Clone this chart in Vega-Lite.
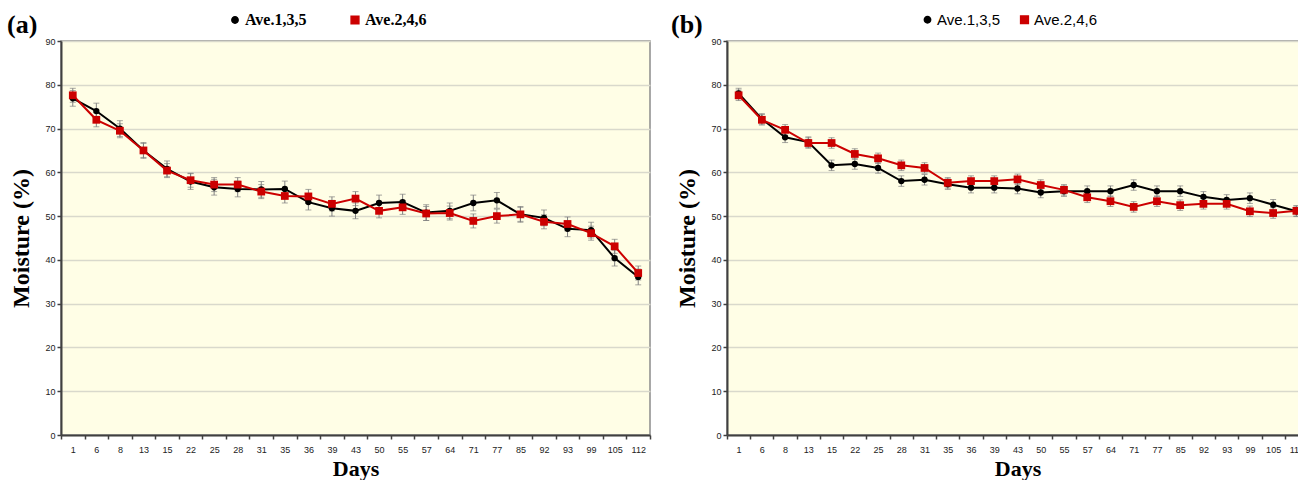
{
  "$schema": "https://vega.github.io/schema/vega-lite/v6.json",
  "padding": {"left": 6, "top": 11, "right": 0, "bottom": 0},
  "background": "white",
  "datasets": {
    "a": [
      {"day": 1, "series": "Ave.1,3,5", "moisture": 76.9, "err": 1.8},
      {"day": 6, "series": "Ave.1,3,5", "moisture": 74.0, "err": 1.8},
      {"day": 8, "series": "Ave.1,3,5", "moisture": 70.0, "err": 1.8},
      {"day": 13, "series": "Ave.1,3,5", "moisture": 65.0, "err": 1.8},
      {"day": 15, "series": "Ave.1,3,5", "moisture": 60.8, "err": 1.8},
      {"day": 22, "series": "Ave.1,3,5", "moisture": 57.9, "err": 1.8},
      {"day": 25, "series": "Ave.1,3,5", "moisture": 56.6, "err": 1.8},
      {"day": 28, "series": "Ave.1,3,5", "moisture": 56.2, "err": 1.8},
      {"day": 31, "series": "Ave.1,3,5", "moisture": 56.1, "err": 1.8},
      {"day": 35, "series": "Ave.1,3,5", "moisture": 56.2, "err": 1.8},
      {"day": 36, "series": "Ave.1,3,5", "moisture": 53.2, "err": 1.8},
      {"day": 39, "series": "Ave.1,3,5", "moisture": 51.8, "err": 1.8},
      {"day": 43, "series": "Ave.1,3,5", "moisture": 51.2, "err": 1.8},
      {"day": 50, "series": "Ave.1,3,5", "moisture": 53.0, "err": 1.8},
      {"day": 55, "series": "Ave.1,3,5", "moisture": 53.2, "err": 1.8},
      {"day": 57, "series": "Ave.1,3,5", "moisture": 50.8, "err": 1.8},
      {"day": 64, "series": "Ave.1,3,5", "moisture": 51.2, "err": 1.8},
      {"day": 71, "series": "Ave.1,3,5", "moisture": 53.0, "err": 1.8},
      {"day": 77, "series": "Ave.1,3,5", "moisture": 53.6, "err": 1.8},
      {"day": 85, "series": "Ave.1,3,5", "moisture": 50.4, "err": 1.8},
      {"day": 92, "series": "Ave.1,3,5", "moisture": 49.6, "err": 1.8},
      {"day": 93, "series": "Ave.1,3,5", "moisture": 47.1, "err": 1.8},
      {"day": 99, "series": "Ave.1,3,5", "moisture": 46.8, "err": 1.8},
      {"day": 105, "series": "Ave.1,3,5", "moisture": 40.4, "err": 1.8},
      {"day": 112, "series": "Ave.1,3,5", "moisture": 36.1, "err": 1.8},
      {"day": 1, "series": "Ave.2,4,6", "moisture": 77.6, "err": 1.6},
      {"day": 6, "series": "Ave.2,4,6", "moisture": 72.0, "err": 1.6},
      {"day": 8, "series": "Ave.2,4,6", "moisture": 69.5, "err": 1.6},
      {"day": 13, "series": "Ave.2,4,6", "moisture": 65.0, "err": 1.6},
      {"day": 15, "series": "Ave.2,4,6", "moisture": 60.4, "err": 1.6},
      {"day": 22, "series": "Ave.2,4,6", "moisture": 58.2, "err": 1.6},
      {"day": 25, "series": "Ave.2,4,6", "moisture": 57.2, "err": 1.6},
      {"day": 28, "series": "Ave.2,4,6", "moisture": 57.2, "err": 1.6},
      {"day": 31, "series": "Ave.2,4,6", "moisture": 55.6, "err": 1.6},
      {"day": 35, "series": "Ave.2,4,6", "moisture": 54.6, "err": 1.6},
      {"day": 36, "series": "Ave.2,4,6", "moisture": 54.5, "err": 1.6},
      {"day": 39, "series": "Ave.2,4,6", "moisture": 52.8, "err": 1.6},
      {"day": 43, "series": "Ave.2,4,6", "moisture": 54.0, "err": 1.6},
      {"day": 50, "series": "Ave.2,4,6", "moisture": 51.2, "err": 1.6},
      {"day": 55, "series": "Ave.2,4,6", "moisture": 52.0, "err": 1.6},
      {"day": 57, "series": "Ave.2,4,6", "moisture": 50.6, "err": 1.6},
      {"day": 64, "series": "Ave.2,4,6", "moisture": 50.7, "err": 1.6},
      {"day": 71, "series": "Ave.2,4,6", "moisture": 48.9, "err": 1.6},
      {"day": 77, "series": "Ave.2,4,6", "moisture": 50.0, "err": 1.6},
      {"day": 85, "series": "Ave.2,4,6", "moisture": 50.4, "err": 1.6},
      {"day": 92, "series": "Ave.2,4,6", "moisture": 48.7, "err": 1.6},
      {"day": 93, "series": "Ave.2,4,6", "moisture": 48.2, "err": 1.6},
      {"day": 99, "series": "Ave.2,4,6", "moisture": 46.1, "err": 1.6},
      {"day": 105, "series": "Ave.2,4,6", "moisture": 43.1, "err": 1.6},
      {"day": 112, "series": "Ave.2,4,6", "moisture": 37.0, "err": 1.6}
    ],
    "b": [
      {"day": 1, "series": "Ave.1,3,5", "moisture": 78.0, "err": 1.2},
      {"day": 6, "series": "Ave.1,3,5", "moisture": 72.2, "err": 1.2},
      {"day": 8, "series": "Ave.1,3,5", "moisture": 68.0, "err": 1.2},
      {"day": 13, "series": "Ave.1,3,5", "moisture": 66.9, "err": 1.2},
      {"day": 15, "series": "Ave.1,3,5", "moisture": 61.6, "err": 1.2},
      {"day": 22, "series": "Ave.1,3,5", "moisture": 61.9, "err": 1.2},
      {"day": 25, "series": "Ave.1,3,5", "moisture": 61.0, "err": 1.2},
      {"day": 28, "series": "Ave.1,3,5", "moisture": 58.0, "err": 1.2},
      {"day": 31, "series": "Ave.1,3,5", "moisture": 58.3, "err": 1.2},
      {"day": 35, "series": "Ave.1,3,5", "moisture": 57.3, "err": 1.2},
      {"day": 36, "series": "Ave.1,3,5", "moisture": 56.5, "err": 1.2},
      {"day": 39, "series": "Ave.1,3,5", "moisture": 56.5, "err": 1.2},
      {"day": 43, "series": "Ave.1,3,5", "moisture": 56.3, "err": 1.2},
      {"day": 50, "series": "Ave.1,3,5", "moisture": 55.4, "err": 1.2},
      {"day": 55, "series": "Ave.1,3,5", "moisture": 55.7, "err": 1.2},
      {"day": 57, "series": "Ave.1,3,5", "moisture": 55.7, "err": 1.2},
      {"day": 64, "series": "Ave.1,3,5", "moisture": 55.7, "err": 1.2},
      {"day": 71, "series": "Ave.1,3,5", "moisture": 57.1, "err": 1.2},
      {"day": 77, "series": "Ave.1,3,5", "moisture": 55.7, "err": 1.2},
      {"day": 85, "series": "Ave.1,3,5", "moisture": 55.7, "err": 1.2},
      {"day": 92, "series": "Ave.1,3,5", "moisture": 54.4, "err": 1.2},
      {"day": 93, "series": "Ave.1,3,5", "moisture": 53.7, "err": 1.2},
      {"day": 99, "series": "Ave.1,3,5", "moisture": 54.1, "err": 1.2},
      {"day": 105, "series": "Ave.1,3,5", "moisture": 52.6, "err": 1.2},
      {"day": 112, "series": "Ave.1,3,5", "moisture": 51.1, "err": 1.2},
      {"day": 1, "series": "Ave.2,4,6", "moisture": 77.6, "err": 1.2},
      {"day": 6, "series": "Ave.2,4,6", "moisture": 72.0, "err": 1.2},
      {"day": 8, "series": "Ave.2,4,6", "moisture": 69.7, "err": 1.2},
      {"day": 13, "series": "Ave.2,4,6", "moisture": 66.7, "err": 1.2},
      {"day": 15, "series": "Ave.2,4,6", "moisture": 66.7, "err": 1.2},
      {"day": 22, "series": "Ave.2,4,6", "moisture": 64.2, "err": 1.2},
      {"day": 25, "series": "Ave.2,4,6", "moisture": 63.2, "err": 1.2},
      {"day": 28, "series": "Ave.2,4,6", "moisture": 61.6, "err": 1.2},
      {"day": 31, "series": "Ave.2,4,6", "moisture": 61.0, "err": 1.2},
      {"day": 35, "series": "Ave.2,4,6", "moisture": 57.6, "err": 1.2},
      {"day": 36, "series": "Ave.2,4,6", "moisture": 58.0, "err": 1.2},
      {"day": 39, "series": "Ave.2,4,6", "moisture": 58.0, "err": 1.2},
      {"day": 43, "series": "Ave.2,4,6", "moisture": 58.4, "err": 1.2},
      {"day": 50, "series": "Ave.2,4,6", "moisture": 57.1, "err": 1.2},
      {"day": 55, "series": "Ave.2,4,6", "moisture": 56.0, "err": 1.2},
      {"day": 57, "series": "Ave.2,4,6", "moisture": 54.3, "err": 1.2},
      {"day": 64, "series": "Ave.2,4,6", "moisture": 53.4, "err": 1.2},
      {"day": 71, "series": "Ave.2,4,6", "moisture": 52.1, "err": 1.2},
      {"day": 77, "series": "Ave.2,4,6", "moisture": 53.4, "err": 1.2},
      {"day": 85, "series": "Ave.2,4,6", "moisture": 52.5, "err": 1.2},
      {"day": 92, "series": "Ave.2,4,6", "moisture": 52.8, "err": 1.2},
      {"day": 93, "series": "Ave.2,4,6", "moisture": 52.8, "err": 1.2},
      {"day": 99, "series": "Ave.2,4,6", "moisture": 51.1, "err": 1.2},
      {"day": 105, "series": "Ave.2,4,6", "moisture": 50.7, "err": 1.2},
      {"day": 112, "series": "Ave.2,4,6", "moisture": 51.2, "err": 1.2}
    ]
  },
  "config": {
    "view": {"fill": "#FFFEE6", "stroke": "#8C8C8C", "strokeWidth": 1.5},
    "axis": {
      "labelFont": "Liberation Sans", "labelFontSize": 9, "labelColor": "#222222",
      "titleFont": "Liberation Serif", "titleFontWeight": "bold", "titleColor": "#000000",
      "domainColor": "#404040", "domainWidth": 2,
      "tickColor": "#404040", "tickWidth": 1.5, "tickSize": 4,
      "gridColor": "#D9D9CC", "gridWidth": 1.5
    },
    "concat": {"spacing": 18}
  },
  "resolve": {
    "scale": {"color": "independent", "shape": "independent", "size": "independent", "x": "independent", "y": "independent"},
    "legend": {"color": "independent", "shape": "independent", "size": "independent"}
  },
  "hconcat": [
    {
      "width": 589, "height": 394,
      "title": {"text": "(a)", "font": "Liberation Serif", "fontSize": 26, "fontWeight": "bold", "color": "#000000", "anchor": "start", "frame": "group", "dx": -54, "offset": -26},
      "data": {"name": "a"},
      "encoding": {
        "x": {"field": "day", "type": "ordinal", "scale": {"paddingInner": 0, "paddingOuter": 0},
          "axis": {"title": "Days", "labelAngle": 0, "tickBand": "extent", "grid": false, "titleFontSize": 22, "labelPadding": 6, "titlePadding": 4}},
        "y": {"field": "moisture", "type": "quantitative", "scale": {"domain": [0, 90], "nice": false},
          "axis": {"title": "Moisture (%)", "values": [0, 10, 20, 30, 40, 50, 60, 70, 80, 90], "titleFontSize": 24, "labelPadding": 2, "titlePadding": 11}}
      },
      "layer": [
        {
          "mark": {"type": "errorbar", "color": "#808080", "thickness": 1, "ticks": {"size": 6, "color": "#808080", "thickness": 1}},
          "encoding": {
            "yError": {"field": "err"},
            "detail": {"field": "series"}
          }
        },
        {
          "mark": {"type": "line", "strokeWidth": 2},
          "encoding": {
            "color": {"field": "series", "type": "nominal", "scale": {"domain": ["Ave.1,3,5", "Ave.2,4,6"], "range": ["#000000", "#CC0000"]}}
          }
        },
        {
          "mark": {"type": "point", "filled": true, "opacity": 1},
          "encoding": {
            "color": {"field": "series", "type": "nominal", "scale": {"domain": ["Ave.1,3,5", "Ave.2,4,6"], "range": ["#000000", "#CC0000"]},
              "legend": {"title": null, "orient": "none", "legendX": 166, "legendY": -29, "direction": "horizontal",
                "labelFont": "Liberation Serif", "labelFontWeight": "bold", "labelFontSize": 16, "labelColor": "#000000",
                "symbolSize": 400, "columnPadding": 40, "labelOffset": 2,
                "encode": {"symbols": {
                  "shape": {"condition": {"test": "datum.value == 'Ave.1,3,5'", "value": "M-1,0H1M-0.3,0a0.3,0.3 0 1,0 0.6,0a0.3,0.3 0 1,0 -0.6,0"}, "value": "M-1,0H1M-0.3,-0.3h0.6v0.6h-0.6z"},
                  "fill": {"condition": {"test": "datum.value == 'Ave.1,3,5'", "value": "#000000"}, "value": "#CC0000"},
                  "stroke": {"condition": {"test": "datum.value == 'Ave.1,3,5'", "value": "#000000"}, "value": "#CC0000"},
                  "strokeWidth": {"value": 2}, "opacity": {"value": 1}, "fillOpacity": {"value": 1}}}}},
            "shape": {"field": "series", "type": "nominal", "scale": {"domain": ["Ave.1,3,5", "Ave.2,4,6"], "range": ["circle", "square"]}, "legend": null},
            "size": {"field": "series", "type": "nominal", "scale": {"domain": ["Ave.1,3,5", "Ave.2,4,6"], "range": [40, 60]}, "legend": null}
          }
        }
      ]
    },
    {
      "width": 581, "height": 394,
      "title": {"text": "(b)", "font": "Liberation Serif", "fontSize": 26, "fontWeight": "bold", "color": "#000000", "anchor": "start", "frame": "group", "dx": -56, "offset": -26},
      "data": {"name": "b"},
      "encoding": {
        "x": {"field": "day", "type": "ordinal", "scale": {"paddingInner": 0, "paddingOuter": 0},
          "axis": {"title": "Days", "labelAngle": 0, "tickBand": "extent", "grid": false, "titleFontSize": 22, "labelPadding": 6, "titlePadding": 4}},
        "y": {"field": "moisture", "type": "quantitative", "scale": {"domain": [0, 90], "nice": false},
          "axis": {"title": "Moisture (%)", "values": [0, 10, 20, 30, 40, 50, 60, 70, 80, 90], "titleFontSize": 24, "labelPadding": 2, "titlePadding": 11}}
      },
      "layer": [
        {
          "mark": {"type": "errorbar", "color": "#808080", "thickness": 1, "ticks": {"size": 6, "color": "#808080", "thickness": 1}},
          "encoding": {
            "yError": {"field": "err"},
            "detail": {"field": "series"}
          }
        },
        {
          "mark": {"type": "line", "strokeWidth": 2},
          "encoding": {
            "color": {"field": "series", "type": "nominal", "scale": {"domain": ["Ave.1,3,5", "Ave.2,4,6"], "range": ["#000000", "#CC0000"]}}
          }
        },
        {
          "mark": {"type": "point", "filled": true, "opacity": 1},
          "encoding": {
            "color": {"field": "series", "type": "nominal", "scale": {"domain": ["Ave.1,3,5", "Ave.2,4,6"], "range": ["#000000", "#CC0000"]},
              "legend": {"title": null, "orient": "none", "legendX": 193, "legendY": -29, "direction": "horizontal",
                "labelFont": "Liberation Sans", "labelFontWeight": "normal", "labelFontSize": 15, "labelColor": "#000000",
                "symbolSize": 400, "columnPadding": 16, "labelOffset": 2,
                "encode": {"symbols": {
                  "shape": {"condition": {"test": "datum.value == 'Ave.1,3,5'", "value": "M-1,0H1M-0.3,0a0.3,0.3 0 1,0 0.6,0a0.3,0.3 0 1,0 -0.6,0"}, "value": "M-1,0H1M-0.3,-0.3h0.6v0.6h-0.6z"},
                  "fill": {"condition": {"test": "datum.value == 'Ave.1,3,5'", "value": "#000000"}, "value": "#CC0000"},
                  "stroke": {"condition": {"test": "datum.value == 'Ave.1,3,5'", "value": "#000000"}, "value": "#CC0000"},
                  "strokeWidth": {"value": 2}, "opacity": {"value": 1}, "fillOpacity": {"value": 1}}}}},
            "shape": {"field": "series", "type": "nominal", "scale": {"domain": ["Ave.1,3,5", "Ave.2,4,6"], "range": ["circle", "square"]}, "legend": null},
            "size": {"field": "series", "type": "nominal", "scale": {"domain": ["Ave.1,3,5", "Ave.2,4,6"], "range": [40, 60]}, "legend": null}
          }
        }
      ]
    }
  ]
}
